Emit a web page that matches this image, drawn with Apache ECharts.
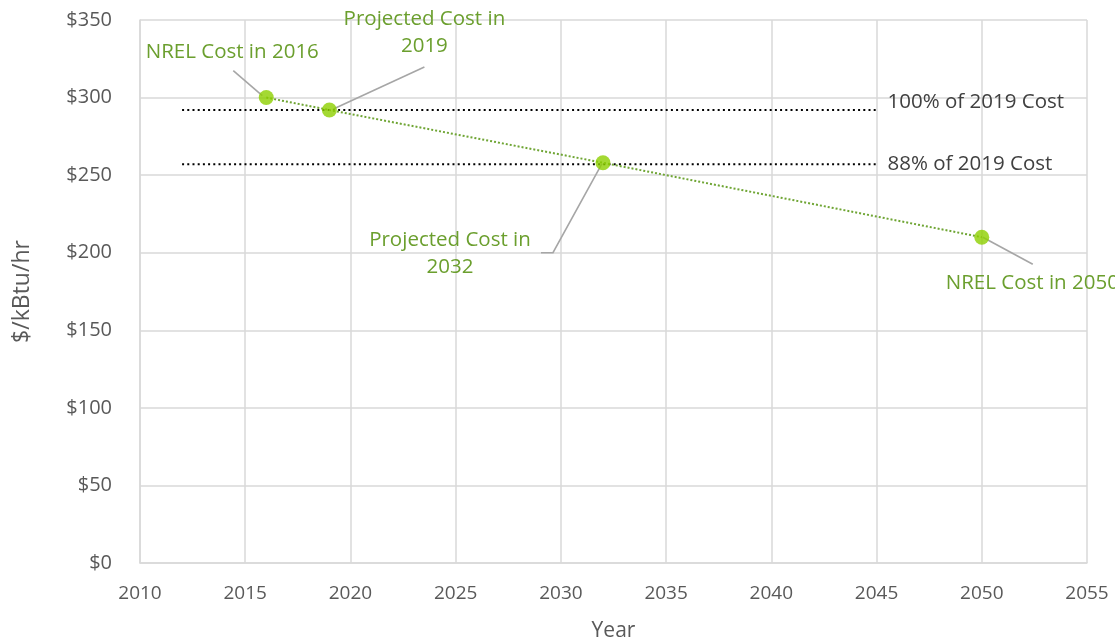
<!DOCTYPE html>
<html>
<head>
<meta charset="utf-8">
<script src="https://cdn.jsdelivr.net/npm/echarts@6/dist/echarts.min.js"></script>
<style>
  html, body { margin: 0; padding: 0; background: #ffffff; }
  #chart { width: 1115px; height: 644px; }
</style>
</head>
<body>
<div id="chart"></div>
<script>
// Heat pump installed cost per kBtu/hr
const years = [2016, 2019, 2032, 2050];
const costs = [300, 292, 258, 210];
const pointLabels = ['NREL Cost in 2016', 'Projected Cost in\n2019', 'Projected Cost in\n2032', 'NREL Cost in 2050'];

// Reference levels relative to the 2019 cost
const refSpan = [2012, 2045];
const refValues = [292, 257];
const refLabels = ['100% of 2019 Cost', '88% of 2019 Cost'];

// Axis ranges: [min, max, interval]
const xRange = [2010, 2055, 5];
const yRange = [0, 350, 50];

const FONT = '"Open Sans", "Noto Sans", sans-serif';
const GREEN_TEXT = '#6b9f2e';
const GREEN_LINE = '#6fa534';
const GREEN_DOT = '#8dcf00';
const LEADER = '#a6a6a6';

const chart = echarts.init(document.getElementById('chart'), null, { renderer: 'canvas' });

const series = [];
refValues.forEach((v, i) => {
  series.push({
    name: refLabels[i],
    type: 'line',
    data: [[refSpan[0], v], [refSpan[1], v]],
    showSymbol: false,
    silent: true,
    z: 2,
    lineStyle: { color: '#000000', width: 2, type: [2, 3.2] }
  });
});
series.push({
  name: 'trend',
  type: 'line',
  data: years.map((y, i) => [y, costs[i]]),
  showSymbol: false,
  silent: true,
  z: 3,
  lineStyle: { color: GREEN_LINE, width: 2, type: [2, 2] }
});
series.push({
  name: 'cost',
  type: 'scatter',
  data: years.map((y, i) => [y, costs[i]]),
  symbol: 'circle',
  symbolSize: 15,
  z: 5,
  itemStyle: { color: GREEN_DOT }
});

chart.setOption({
  animation: false,
  backgroundColor: '#ffffff',
  grid: { left: 140, right: 28, top: 20, bottom: 81, containLabel: false, outerBoundsMode: 'none' },
  xAxis: {
    type: 'value',
    min: xRange[0], max: xRange[1], interval: xRange[2],
    name: 'Year', nameLocation: 'middle', nameGap: 58,
    nameTextStyle: { fontFamily: FONT, fontSize: 21, color: '#595959' },
    axisLine: { show: true, lineStyle: { color: '#d9d9d9', width: 1.5 } },
    axisTick: { show: false },
    axisLabel: { fontFamily: FONT, fontSize: 19, color: '#595959', margin: 21, formatter: v => String(v) },
    splitLine: { show: true, lineStyle: { color: '#d9d9d9', width: 1.5 } }
  },
  yAxis: {
    type: 'value',
    min: yRange[0], max: yRange[1], interval: yRange[2],
    name: '$/kBtu/hr', nameLocation: 'middle', nameGap: 106, nameRotate: 90,
    nameTextStyle: { fontFamily: FONT, fontSize: 23, color: '#595959' },
    axisLine: { show: true, lineStyle: { color: '#d9d9d9', width: 1.5 } },
    axisTick: { show: false },
    axisLabel: { fontFamily: FONT, fontSize: 20, color: '#595959', margin: 28, formatter: v => '$' + v },
    splitLine: { show: true, lineStyle: { color: '#d9d9d9', width: 1.5 } }
  },
  series: series
});

// Callout layout for each point: text anchor offset, alignment, leader polyline offsets
const callouts = [
  { text: [-34, -45], align: 'center', leader: [[-33, -27], [-4, -2]] },
  { text: [95, -77], align: 'center', leader: [[95, -43], [4, -1]] },
  { text: [-153, 91], align: 'center', leader: [[-62, 90], [-50, 90], [-1, 1]] },
  { text: [-36, 46], align: 'left', leader: [[1, 0], [51, 27]] }
];

const toPx = (x, y) => chart.convertToPixel({ gridIndex: 0 }, [x, y]);
const graphics = [];

years.forEach((yr, i) => {
  const p = toPx(yr, costs[i]);
  const c = callouts[i];
  graphics.push({
    type: 'polyline', z: 4, silent: true,
    shape: { points: c.leader.map(o => [p[0] + o[0], p[1] + o[1]]) },
    style: { stroke: LEADER, lineWidth: 1.6, fill: null }
  });
  graphics.push({
    type: 'text', z: 6, silent: true,
    x: p[0] + c.text[0], y: p[1] + c.text[1],
    style: {
      text: pointLabels[i], fill: GREEN_TEXT, font: '20.5px ' + FONT,
      align: c.align, verticalAlign: 'middle', lineHeight: 27
    }
  });
});

const refOffsets = [[11, -8], [11, 0]];
refValues.forEach((v, i) => {
  const p = toPx(refSpan[1], v);
  graphics.push({
    type: 'text', z: 6, silent: true,
    x: p[0] + refOffsets[i][0], y: p[1] + refOffsets[i][1],
    style: {
      text: refLabels[i], fill: '#404040', font: '20.5px ' + FONT,
      align: 'left', verticalAlign: 'middle'
    }
  });
});

chart.setOption({ graphic: graphics });
</script>
</body>
</html>
